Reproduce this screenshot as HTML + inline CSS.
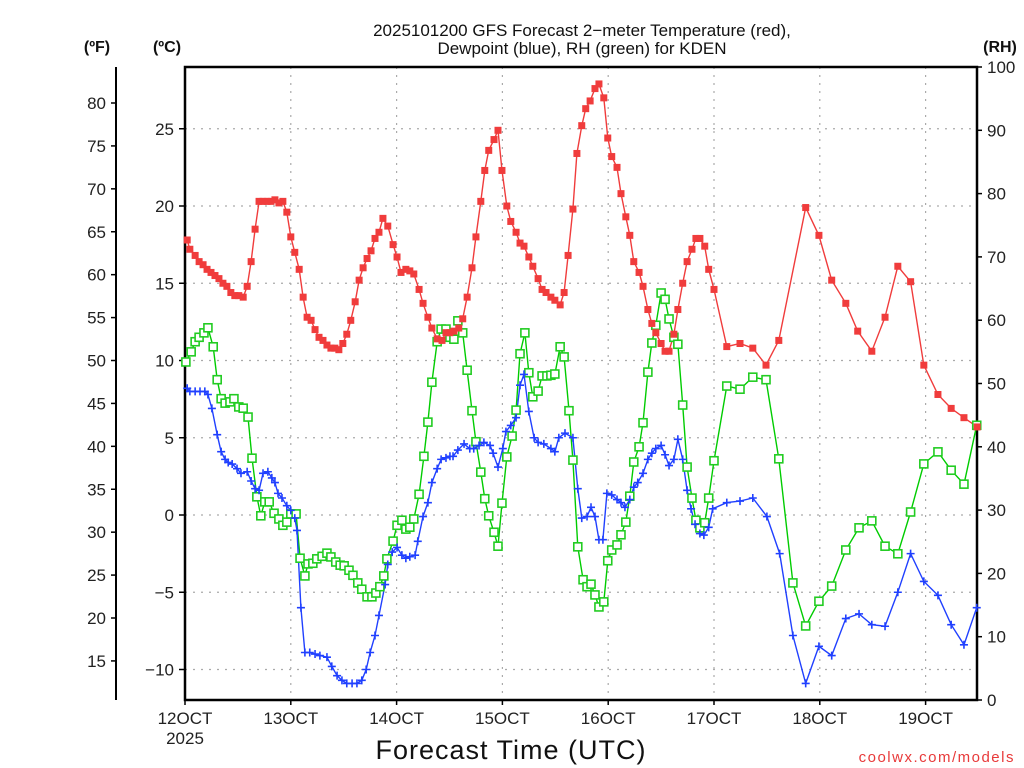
<!DOCTYPE html>
<html><head><meta charset="utf-8"><style>
html,body{margin:0;padding:0;background:#fff;}
svg{display:block;font-family:"Liberation Sans",sans-serif;}
</style></head><body>
<svg id="chart" width="1024" height="768" viewBox="0 0 1024 768" xmlns="http://www.w3.org/2000/svg">
<text x="582" y="36" font-size="17" text-anchor="middle" fill="#111">2025101200 GFS Forecast 2−meter Temperature (red),</text>
<text x="582" y="54" font-size="17" text-anchor="middle" fill="#111">Dewpoint (blue), RH (green) for KDEN</text>
<text x="97" y="52" font-size="16" font-weight="bold" text-anchor="middle" fill="#111">(ºF)</text>
<text x="167" y="52" font-size="16" font-weight="bold" text-anchor="middle" fill="#111">(ºC)</text>
<text x="1000" y="52" font-size="16" font-weight="bold" text-anchor="middle" fill="#111">(RH)</text>
<text x="511" y="759" font-size="27" text-anchor="middle" fill="#111" letter-spacing="1">Forecast Time (UTC)</text>
<text x="1015" y="762" font-size="15" text-anchor="end" fill="#e83a3a" letter-spacing="1.5">coolwx.com/models</text>
<g id="grid"></g>
<g id="axes"></g>
<g id="series"></g>
</svg>
<script>
// ---- data ----
const tempHours=[0.5,1.1,2.3,3.2,4.1,5.0,5.9,6.8,7.7,8.6,9.5,10.4,11.3,12.2,13.2,14.1,15.0,15.9,16.8,17.7,18.6,19.5,20.4,21.3,22.2,23.1,24.0,24.9,25.9,26.8,27.7,28.6,29.5,30.4,31.3,32.2,33.1,34.0,34.9,35.8,36.7,37.6,38.6,39.5,40.4,41.3,42.2,43.1,44.0,44.9,46.0,47.2,48.1,49.0,50.1,51.0,51.9,53.1,54.0,55.1,56.0,57.2,58.3,59.2,60.1,61.0,62.1,63.0,64.0,65.1,66.0,67.1,68.0,68.9,70.1,71.0,71.9,73.0,73.9,75.1,76.0,76.9,78.0,78.9,80.1,81.0,81.9,83.0,83.9,85.1,86.0,86.9,88.0,88.9,90.0,90.9,91.9,93.0,93.9,95.0,95.9,96.8,98.0,98.9,100.0,100.9,101.8,103.0,103.9,105.0,105.9,106.8,108.0,108.9,109.8,110.9,111.8,112.9,113.9,115.0,115.9,116.8,117.9,118.8,120.0,122.9,125.9,128.8,131.8,134.7,140.8,143.8,146.7,149.9,152.6,155.8,158.8,161.7,164.6,167.6,170.8,173.8,176.7,179.7];
const tempC=[17.8,17.2,16.8,16.4,16.2,15.9,15.7,15.5,15.3,15.0,14.8,14.4,14.2,14.2,14.1,14.8,16.4,18.5,20.3,20.3,20.3,20.3,20.4,20.2,20.3,19.6,18.0,17.0,15.9,14.1,12.8,12.6,12.0,11.5,11.3,11.0,10.8,10.8,10.7,11.1,11.7,12.6,13.8,15.2,16.0,16.6,17.1,17.9,18.3,19.2,18.7,17.5,16.7,15.7,15.9,15.8,15.6,14.6,13.7,12.8,12.1,11.4,11.3,11.8,11.8,11.9,12.1,12.7,14.1,16.0,18.0,20.3,22.3,23.6,24.3,24.9,22.3,20.0,19.0,18.3,17.6,17.4,16.7,16.1,15.3,14.6,14.4,14.1,13.9,13.6,14.4,16.8,19.8,23.4,25.2,26.3,26.8,27.6,27.9,27.0,24.4,23.2,22.5,20.8,19.3,18.1,16.4,15.7,14.8,13.3,12.4,11.8,11.1,10.6,10.6,11.7,13.3,15.0,16.4,17.2,17.9,17.9,17.4,15.9,14.6,10.9,11.1,10.8,9.7,11.3,19.9,18.1,15.2,13.7,11.9,10.6,12.8,16.1,15.1,9.7,7.8,6.9,6.3,5.7];
const dewHours=[0.5,1.1,2.3,3.4,4.5,5.2,6.1,7.3,8.2,9.1,9.8,10.7,11.8,12.7,14.1,15.0,15.9,16.8,17.7,18.8,19.7,20.4,21.1,22.0,23.1,24.0,24.9,25.4,26.3,27.2,28.3,29.5,30.6,32.2,33.3,34.5,35.6,36.7,37.9,39.0,40.1,41.1,42.0,43.1,44.0,45.4,46.0,47.0,48.1,49.2,50.1,51.0,52.2,52.8,54.0,55.1,56.0,57.2,58.1,59.2,60.1,60.8,61.9,63.3,64.6,65.5,66.7,67.8,69.2,69.9,71.0,72.1,72.8,73.9,75.1,76.0,76.9,78.0,79.2,80.1,81.4,83.0,83.9,84.8,86.2,88.0,89.1,90.0,91.2,92.1,93.0,93.9,94.8,95.7,96.8,98.0,98.9,99.8,100.9,101.8,102.7,103.9,105.0,105.9,106.8,108.0,108.9,109.8,110.9,111.8,112.9,113.9,114.8,115.7,116.8,117.7,118.8,119.7,122.9,125.9,128.8,132.0,134.9,137.9,140.8,143.8,146.7,149.9,152.9,155.8,158.8,161.7,164.6,167.6,170.8,173.8,176.7,179.6];
const dewC=[8.2,8.0,8.0,8.0,8.0,7.8,6.9,5.2,4.1,3.6,3.4,3.3,3.0,2.7,2.8,2.2,1.7,1.6,2.7,2.8,2.4,2.1,1.4,1.1,0.6,0.3,-0.2,-1.0,-6.0,-8.9,-8.9,-9.0,-9.1,-9.2,-9.8,-10.4,-10.7,-10.9,-10.9,-10.9,-10.7,-10.0,-8.9,-7.8,-6.5,-4.5,-3.2,-2.4,-2.1,-2.6,-2.8,-2.7,-2.6,-1.7,-0.1,0.8,2.1,3.0,3.6,3.7,3.8,3.8,4.2,4.6,4.3,4.3,4.5,4.7,4.5,4.0,3.1,4.3,5.4,5.8,6.3,8.4,9.1,6.7,5.0,4.7,4.6,4.3,4.1,5.0,5.3,5.0,1.7,-0.2,-0.1,0.5,-0.1,-1.6,-1.6,1.4,1.3,1.0,0.8,0.5,1.0,1.8,2.1,2.7,3.6,4.0,4.3,4.5,3.9,3.2,3.6,4.9,3.6,1.6,0.4,-0.6,-1.2,-1.3,-0.8,0.4,0.8,0.9,1.1,-0.1,-2.5,-7.8,-10.9,-8.5,-9.1,-6.7,-6.4,-7.1,-7.2,-5.0,-2.5,-4.3,-5.2,-7.1,-8.4,-6.0];
const rhHours=[0.2,1.4,2.3,3.2,4.3,5.2,6.4,7.3,8.2,9.1,10.2,11.1,12.2,13.2,14.3,15.2,16.3,17.2,18.1,19.1,20.2,21.3,22.2,23.1,24.0,25.2,26.1,27.2,27.9,29.0,29.9,31.1,32.2,33.1,34.2,35.2,36.1,37.2,38.1,39.2,40.1,41.3,42.4,43.3,44.2,45.1,45.8,47.2,48.1,49.2,50.1,51.0,51.9,53.1,54.2,55.1,56.0,57.2,58.1,59.2,60.1,61.0,61.9,63.0,64.0,65.1,66.0,67.1,68.0,68.9,70.1,71.0,71.9,73.0,74.2,75.1,76.0,77.1,78.0,78.9,80.1,81.0,82.1,83.0,83.9,85.1,86.0,87.1,88.0,89.1,90.3,91.2,92.1,93.0,93.9,95.0,95.9,96.8,98.0,98.9,100.0,100.9,101.8,103.0,103.9,105.0,105.9,106.8,108.0,108.9,109.8,110.9,111.8,112.9,113.9,115.0,115.9,116.8,117.9,118.8,120.0,122.9,125.9,128.8,131.8,134.7,137.9,140.8,143.8,146.7,149.9,152.9,155.8,158.8,161.7,164.6,167.6,170.8,173.8,176.7,179.6];
const rhPct=[53.4,55.0,56.6,57.3,58.0,58.8,55.8,50.6,47.6,46.9,47.1,47.6,46.3,46.1,44.7,38.2,32.1,29.1,31.3,31.3,29.5,28.6,27.6,28.1,29.4,29.4,22.4,19.6,21.5,21.6,22.3,22.7,23.2,22.6,21.8,21.3,21.2,20.5,19.7,18.5,17.5,16.3,16.3,16.9,17.9,19.6,22.3,25.1,27.6,28.4,27.0,27.3,28.6,32.5,38.5,43.9,50.2,56.6,58.6,58.6,57.3,57.0,59.9,58.0,52.1,45.7,40.8,36.0,31.8,29.1,26.5,24.3,31.1,38.4,41.7,45.8,54.7,58.0,51.7,47.9,48.8,51.2,51.2,51.3,51.5,55.8,54.2,45.7,37.9,24.2,19.0,17.9,18.3,16.6,14.7,15.5,22.0,23.7,24.5,26.1,28.1,32.2,37.6,40.0,43.8,51.8,56.4,59.2,64.3,63.3,60.2,57.3,56.2,46.6,36.8,31.9,28.4,27.2,28.0,31.9,37.8,49.6,49.1,51.0,50.6,38.1,18.5,11.7,15.6,18.0,23.7,27.2,28.3,24.3,23.1,29.7,37.3,39.2,36.3,34.1,43.4];
const fTicks=[80,75,70,65,60,55,50,45,40,35,30,25,20,15];
const cTicks=[25,20,15,10,5,0,-5,-10];
const rhTicks=[0,10,20,30,40,50,60,70,80,90,100];
const dayLabels=["12OCT","13OCT","14OCT","15OCT","16OCT","17OCT","18OCT","19OCT"];

// ---- axis functions ----
const L=185,R=977,T=67,B=700;
const xOf=h=>L+h*(105.8/24);
const yC=c=>515-c*15.45;
const yF=f=>yC((f-32)*5/9);
const yRH=r=>B-r*(B-T)/100;
const NS="http://www.w3.org/2000/svg";
function mk(tag,attrs,parent){const e=document.createElementNS(NS,tag);for(const k in attrs)e.setAttribute(k,attrs[k]);parent.appendChild(e);return e;}
const grid=document.getElementById('grid'),axes=document.getElementById('axes'),series=document.getElementById('series');

// grid
cTicks.forEach(c=>{const g=mk('line',{x1:L,x2:R,y1:yC(c),y2:yC(c),stroke:'#aaa','stroke-width':1.2,'stroke-dasharray':'2,6'},grid);

});
dayLabels.forEach((d,i)=>{if(i===0)return;const g=mk('line',{x1:xOf(i*24),x2:xOf(i*24),y1:T,y2:B,stroke:'#aaa','stroke-width':1.2,'stroke-dasharray':'2,6'},grid);

});

// axes
let a=mk('rect',{x:L,y:T,width:R-L,height:B-T,fill:'none',stroke:'#000','stroke-width':2.5},axes);


a=mk('line',{x1:116,x2:116,y1:T,y2:B,stroke:'#000','stroke-width':2},axes);


fTicks.forEach(f=>{const y=yF(f);mk('line',{x1:111,x2:116,y1:y,y2:y,stroke:'#000','stroke-width':1.5},axes);
const t=mk('text',{x:106,y:y+6,'font-size':17,'text-anchor':'end',fill:'#222'},axes);t.textContent=f;

});
cTicks.forEach(c=>{const y=yC(c);mk('line',{x1:L-6,x2:L,y1:y,y2:y,stroke:'#000','stroke-width':1.5},axes);
const t=mk('text',{x:174,y:y+6,'font-size':17,'text-anchor':'end',fill:'#222'},axes);t.textContent=c<0?'−'+Math.abs(c):c;

});
rhTicks.forEach(r=>{const y=yRH(r);mk('line',{x1:R,x2:R+5,y1:y,y2:y,stroke:'#000','stroke-width':1.5},axes);
const t=mk('text',{x:987,y:y+6,'font-size':17,'text-anchor':'start',fill:'#222'},axes);t.textContent=r;

});
dayLabels.forEach((d,i)=>{const x=xOf(i*24);mk('line',{x1:x,x2:x,y1:B,y2:B+5,stroke:'#000','stroke-width':1.5},axes);
const t=mk('text',{x:x,y:724,'font-size':17,'text-anchor':'middle',fill:'#222'},axes);t.textContent=d;

});
a=mk('text',{x:xOf(0),y:744,'font-size':17,'text-anchor':'middle',fill:'#222'},axes);a.textContent='2025';



// series
function drawLine(hours,vals,yf,color,name){
  const pts=hours.map((h,i)=>xOf(h).toFixed(1)+','+yf(vals[i]).toFixed(1)).join(' ');
  const p=mk('polyline',{points:pts,fill:'none',stroke:color,'stroke-width':1.4},series);
  
  
}
drawLine(rhHours,rhPct,yRH,'#00cc00','rh');
drawLine(dewHours,dewC,yC,'#2040ff','dewpoint');
drawLine(tempHours,tempC,yC,'#f03c3c','temperature');
rhHours.forEach((h,i)=>{const x=xOf(h),y=yRH(rhPct[i]);
const m=mk('rect',{x:x-4,y:y-4,width:8,height:8,fill:'#fff',stroke:'#22cc22','stroke-width':1.6},series);

});
dewHours.forEach((h,i)=>{const x=xOf(h),y=yC(dewC[i]);
const m=mk('path',{d:`M${x-4},${y}H${x+4}M${x},${y-4}V${y+4}`,stroke:'#2040ff','stroke-width':1.6,fill:'none'},series);

});
tempHours.forEach((h,i)=>{const x=xOf(h),y=yC(tempC[i]);
const m=mk('rect',{x:x-3.5,y:y-3.5,width:7,height:7,fill:'#f03c3c'},series);

});
</script>
</body></html>
